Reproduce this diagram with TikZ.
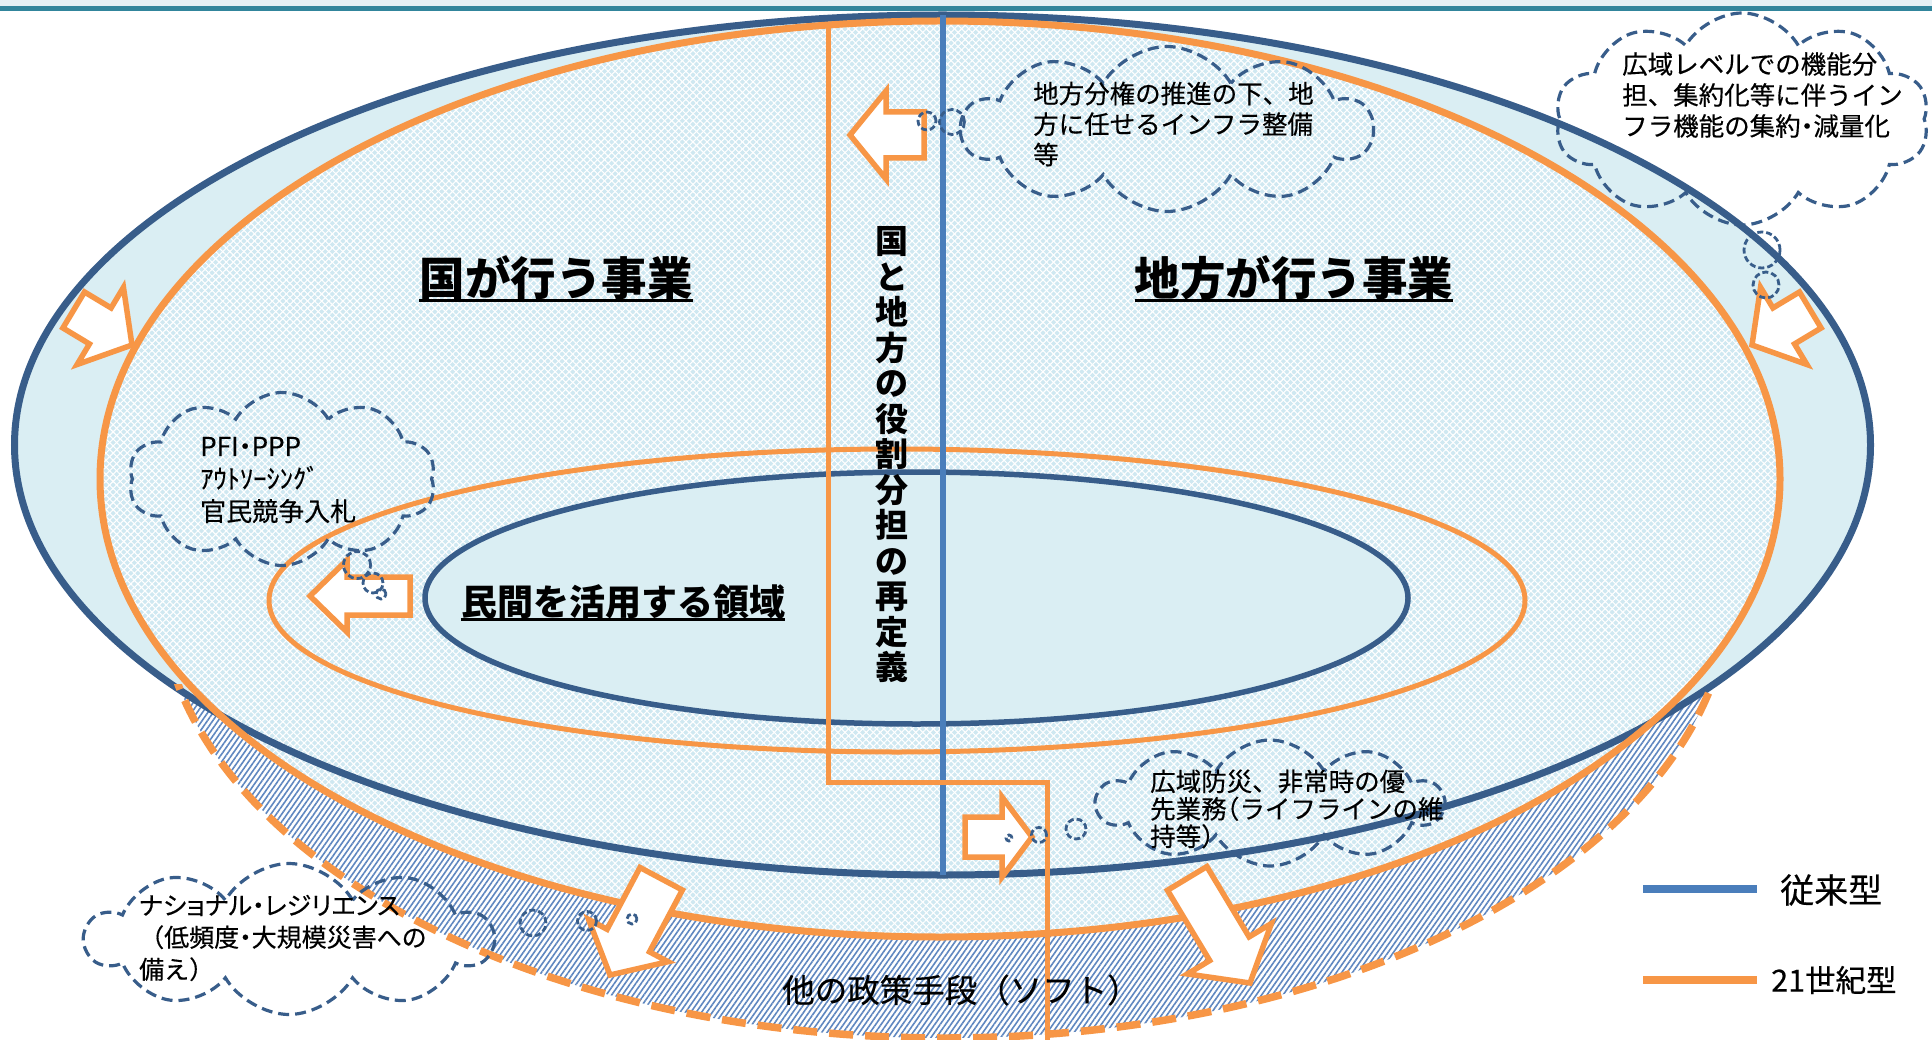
\documentclass[tikz,border=0pt]{standalone}
\usepackage{fontspec}
\setmainfont{Noto Sans CJK JP}
\newfontfamily\jpmed{Noto Sans CJK JP}[FakeBold=0.4]
\usetikzlibrary{shapes.symbols, patterns.meta}
\definecolor{outerblue}{HTML}{385D8A}
\definecolor{lineblue}{HTML}{4A7EBB}
\definecolor{myorange}{HTML}{F79646}
\definecolor{lightblue}{HTML}{DAEEF3}
\definecolor{crossbase}{HTML}{CFE8F1}
\definecolor{hatchblue}{HTML}{5F87C0}
\definecolor{topteal}{HTML}{31859C}
\definecolor{topband}{HTML}{E4F0F5}
\newcommand{\blkarrow}[7]{\draw[blockarrow, shift={(#1,#2)}, rotate=#3] (0,0) -- (-#5,#6) -- (-#5,#7) -- (-#4,#7) -- (-#4,-#7) -- (-#5,-#7) -- (-#5,-#6) -- cycle;}
\newcommand{\nbdot}{\makebox[0.5em][c]{・}}
\newcommand{\nlpar}{\makebox[0.5em][r]{（}}
\newcommand{\nrpar}{\makebox[0.5em][l]{）}}
\begin{document}
\begin{tikzpicture}[x=1pt, y=-1pt,
  crossfill/.style={fill=crossbase,
    postaction={pattern={Lines[angle=45,distance=5pt,line width=1.1pt]}, pattern color=white},
    postaction={pattern={Lines[angle=-45,distance=5pt,line width=1.1pt]}, pattern color=white}},
  hatchfill/.style={fill=white,
    postaction={pattern={Lines[angle=55,distance=4.4pt,line width=1.6pt]}, pattern color=hatchblue}},
  blockarrow/.style={draw=myorange, fill=white, line width=5.5pt, line join=miter},
  thought/.style={cloud, draw=outerblue, dash pattern=on 11pt off 6pt, line width=3.2pt,
    cloud puffs=10, cloud puff arc=120, cloud ignores aspect, inner sep=0pt},
  bubble/.style={circle, draw=outerblue, dash pattern=on 6pt off 3pt, line width=2.8pt, inner sep=0pt},
  heading/.style={font=\bfseries\fontsize{45.5}{50}\selectfont, inner sep=0pt},
  uline/.style={line width=3pt, black},
  cloudtext/.style={align=left, inner sep=0pt, anchor=west},
  legtext/.style={inner sep=0pt, anchor=west}
]
\useasboundingbox (0,0) rectangle (1932,1040);
\fill[white] (0,0) rectangle (1932,1040);
\fill[topband] (0,0) rectangle (1932,6);
\fill[topteal] (0,6) rectangle (1932,11);

% hatched region (other policy means)
\begin{scope}
  \clip (0,684) rectangle (1932,1040);
  \path[hatchfill] (945,588) ellipse [x radius=785, y radius=450];
\end{scope}
% fills
\fill[lightblue] (942.5,445) ellipse [x radius=928, y radius=430];
\path[crossfill] (940,479) ellipse [x radius=840, y radius=458];
\fill[lightblue] (916.5,598) ellipse [x radius=491.5, y radius=126];

% outlines
\draw[outerblue, line width=7pt] (942.5,445) ellipse [x radius=928, y radius=430];
\draw[myorange, line width=7pt] (940,479) ellipse [x radius=840, y radius=458];
\draw[myorange, line width=5pt] (897,600.5) ellipse [x radius=628, y radius=151.5];
\draw[outerblue, line width=5.5pt] (916.5,598) ellipse [x radius=491.5, y radius=126];
\begin{scope}
  \clip (0,684) rectangle (1932,1040);
  \draw[myorange, line width=7.5pt, dash pattern=on 24pt off 12pt] (945,588) ellipse [x radius=785, y radius=450];
\end{scope}

% dividing lines
\coordinate (vbt) at (943,15);
\coordinate (vbb) at (943,875);
\draw[lineblue, line width=5.5pt] (vbt) -- (vbb);
\coordinate (o1) at (828,25);
\coordinate (o2) at (828,782);
\coordinate (o3) at (1047,782);
\coordinate (o4) at (1047,1040);
\draw[myorange, line width=5pt, line join=miter] (o1) -- (o2) -- (o3) -- (o4);

% headings
\node[heading] (h1) at (556,278) {国が行う事業};
\draw[uline] ([yshift=-5pt]h1.base west) -- ([yshift=-5pt]h1.base east);
\node[heading] (h2) at (1294,278) {地方が行う事業};
\draw[uline] ([yshift=-5pt]h2.base west) -- ([yshift=-5pt]h2.base east);
\node[font=\bfseries\fontsize{36}{40}\selectfont, inner sep=0pt] (h3) at (623,602) {民間を活用する領域};
\draw[uline] ([yshift=-4pt]h3.base west) -- ([yshift=-4pt]h3.base east);
\node[font=\bfseries\fontsize{33}{35.5}\selectfont, align=center, inner sep=0pt] (vt) at (892,455)
  {国\\と\\地\\方\\の\\役\\割\\分\\担\\の\\再\\定\\義};
\node[font=\jpmed\fontsize{32.5}{36}\selectfont, inner sep=0pt] (soft) at (961,990) {他の政策手段（ソフト）};

% block arrows
\blkarrow{850}{135}{180}{74}{36}{44}{23}
\blkarrow{310}{596}{180}{100}{37}{36}{19}
\blkarrow{1032}{837}{0}{67}{30}{40}{20}
\blkarrow{132}{345}{-31}{68}{37}{45}{21}
\blkarrow{1752}{345}{-149}{68}{37}{45}{21}
\blkarrow{610}{975}{-118}{109}{39}{45}{24}
\blkarrow{1250}{983}{-59}{122}{40}{49}{23}

% clouds
\node[thought, minimum width=410pt, minimum height=165pt] (c1) at (1167,129) {};
\node[cloudtext, font=\jpmed\fontsize{25.5}{30.5}\selectfont] (t1) at (1033,124)
  {地方分権の推進の下、地\\方に任せるインフラ整備\\等};
\node[bubble, minimum size=18pt] (b11) at (927,121) {};
\node[bubble, minimum size=25pt] (b12) at (952,122) {};

\node[thought, minimum width=374pt, minimum height=212pt] (c2) at (1742,119) {};
\node[cloudtext, font=\jpmed\fontsize{25.5}{31}\selectfont] (t2) at (1622,95)
  {広域レベルでの機能分\\担、集約化等に伴うイン\\フラ機能の集約\nbdot 減量化};
\node[bubble, minimum size=36pt] (b21) at (1762,250) {};
\node[bubble, minimum size=26pt] (b22) at (1766,285) {};

\node[thought, minimum width=307pt, minimum height=173pt] (c3) at (282,479) {};
\node[cloudtext, font=\jpmed\fontsize{26}{32.5}\selectfont] (t3) at (200,480)
  {PFI\nbdot PPP\\{\fontsize{26.5}{32.5}\selectfont ｱｳﾄｿｰｼﾝｸﾞ}\\官民競争入札};
\node[bubble, minimum size=27pt] (b31) at (357,565) {};
\node[bubble, minimum size=20pt] (b32) at (373,583) {};
\node[bubble, minimum size=10pt] (b33) at (381,594) {};

\node[thought, minimum width=406pt, minimum height=151pt] (c4) at (289,939) {};
\node[cloudtext, font=\jpmed\fontsize{25}{32}\selectfont] (t4) at (139,938)
  {{\addfontfeature{RawFeature=+palt}ナショナル・レジリエンス}\\（低頻度\nbdot 大規模災害への\\備え）};
\node[bubble, minimum size=26pt] (b41) at (533,923) {};
\node[bubble, minimum size=19pt] (b42) at (587,921) {};
\node[bubble, minimum size=10pt] (b43) at (632,919) {};

\node[thought, minimum width=345pt, minimum height=126pt] (c5) at (1270,803) {};
\node[cloudtext, font=\jpmed\fontsize{25.5}{27.5}\selectfont] (t5) at (1150,809)
  {広域防災、非常時の優\\先業務\nlpar ライフラインの維\\持等\nrpar};
\node[bubble, minimum size=6pt] (b51) at (1009,838) {};
\node[bubble, minimum size=15pt] (b52) at (1039,835) {};
\node[bubble, minimum size=20pt] (b53) at (1076,829) {};

% legend
\coordinate (lb1) at (1643,889);
\coordinate (lb2) at (1757,889);
\draw[lineblue, line width=8pt] (lb1) -- (lb2);
\node[legtext, font=\jpmed\fontsize{34}{38}\selectfont] (lt1) at (1780,890) {従来型};
\coordinate (lo1) at (1643,980);
\coordinate (lo2) at (1757,980);
\draw[myorange, line width=8pt] (lo1) -- (lo2);
\node[legtext, font=\jpmed\fontsize{30.5}{34}\selectfont] (lt2) at (1771,980) {21世紀型};
\end{tikzpicture}
\end{document}
